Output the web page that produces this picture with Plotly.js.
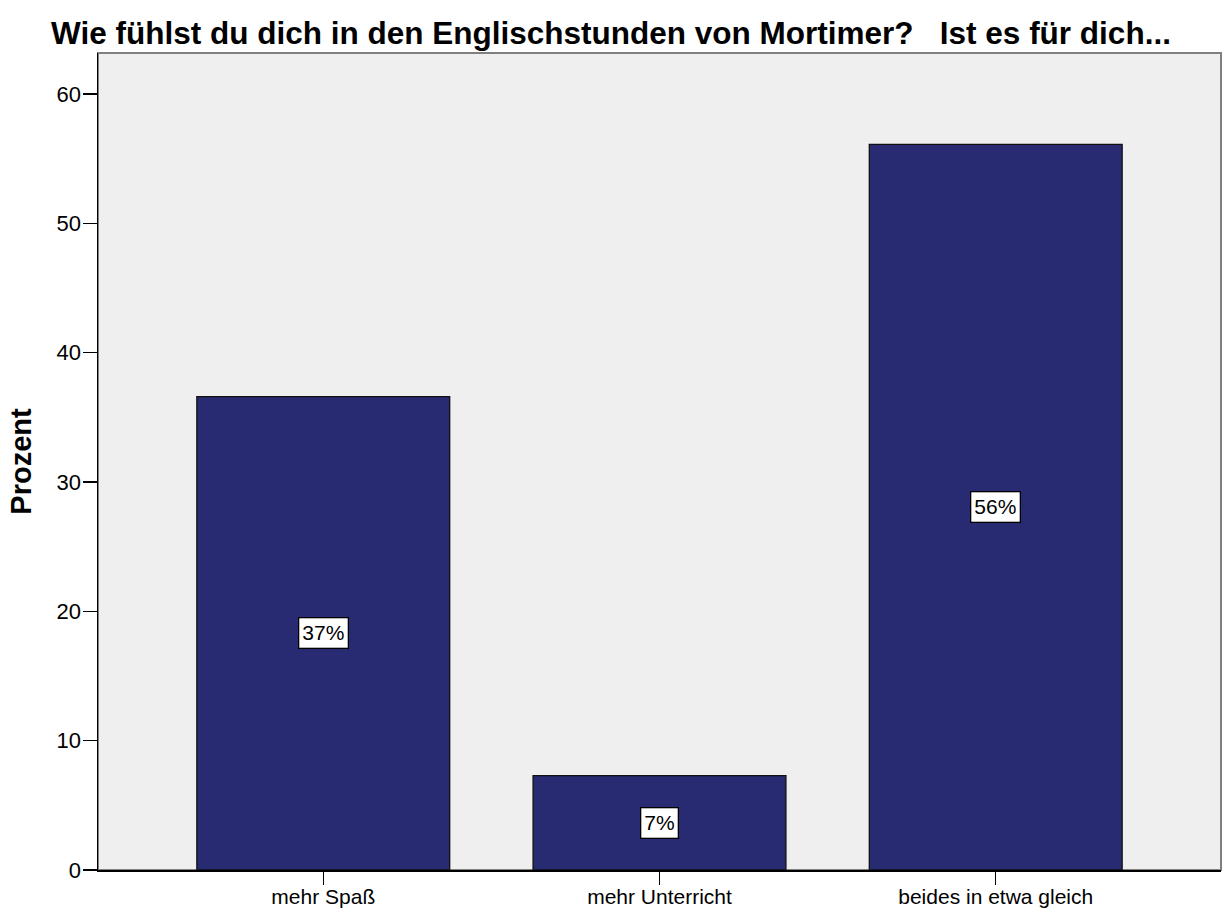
<!DOCTYPE html>
<html>
<head>
<meta charset="utf-8">
<script src="https://cdn.plot.ly/plotly-3.0.1.min.js"></script>
<style>html,body{margin:0;padding:0;background:#fff;}#chart{width:1222px;height:913px;}</style>
</head>
<body>
<div id="chart"></div>
<script>
const categories = ["mehr Spaß", "mehr Unterricht", "beides in etwa gleich"];
const percentValues = [36.6, 7.3, 56.1];
const percentLabels = ["37%", "7%", "56%"];
const yTickValues = [0, 10, 20, 30, 40, 50, 60];

const fontFam = "Liberation Sans, Arial, sans-serif";

const trace = {
  type: "bar",
  x: categories,
  y: percentValues,
  width: 0.752,
  marker: {color: "#282a72", line: {color: "#111111", width: 1.3}},
  hoverinfo: "none"
};

const annotations = categories.map((c, i) => ({
  x: c, y: percentValues[i] / 2, xref: "x", yref: "y",
  text: percentLabels[i], showarrow: false,
  font: {family: fontFam, size: 21, color: "#000"},
  bgcolor: "#ffffff", bordercolor: "#000000", borderwidth: 1.3, borderpad: 3
}));

const layout = {
  width: 1222, height: 913,
  margin: {l: 98, r: 1, t: 53, b: 43},
  paper_bgcolor: "#ffffff",
  plot_bgcolor: "#efefef",
  showlegend: false,
  title: {
    text: "<b>Wie fühlst du dich in den Englischstunden von Mortimer?\u00a0\u00a0\u00a0Ist es für dich...</b>",
    font: {family: fontFam, size: 31.5, color: "#000"},
    x: 0.5, xanchor: "center", xref: "container",
    y: 0.964, yanchor: "middle", yref: "container"
  },
  xaxis: {
    type: "category",
    range: [-0.67, 2.67],
    showgrid: false, zeroline: false,
    showline: true, linecolor: "#000", linewidth: 1.5,
    ticks: "outside", ticklen: 13, tickwidth: 1.5, tickcolor: "#000",
    ticklabelstandoff: -6,
    tickfont: {family: fontFam, size: 21, color: "#000"}
  },
  yaxis: {
    range: [0, 63.17],
    tickvals: yTickValues,
    showgrid: false, zeroline: false,
    showline: true, linecolor: "#000", linewidth: 1.5,
    ticks: "outside", ticklen: 14, tickwidth: 1.5, tickcolor: "#000",
    ticklabelstandoff: -3,
    tickfont: {family: fontFam, size: 22, color: "#000"},
    title: {text: "<b>Prozent</b>", font: {family: fontFam, size: 29, color: "#000"}, standoff: 16}
  },
  shapes: [{
    type: "rect", xref: "paper", yref: "paper", x0: 0, x1: 1, y0: 0, y1: 1,
    line: {color: "#808080", width: 2}, layer: "below"
  }],
  annotations: annotations
};

Plotly.newPlot("chart", [trace], layout, {displayModeBar: false, staticPlot: true});
</script>
</body>
</html>
